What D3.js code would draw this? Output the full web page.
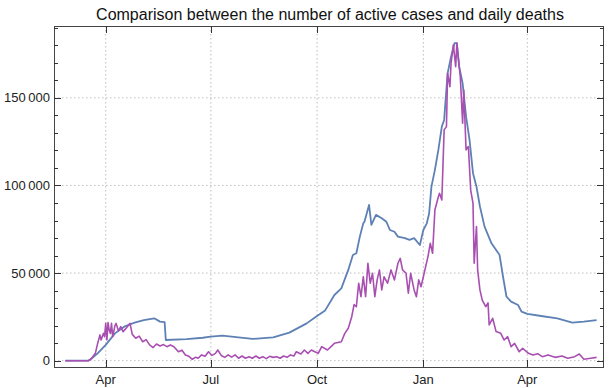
<!DOCTYPE html>
<html>
<head>
<meta charset="UTF-8">
<title>Active cases and daily deaths</title>
<script src="https://d3js.org/d3.v7.min.js"></script>
<style>
  body { margin: 0; background: #fff; }
  svg { display: block; font-family: "Liberation Sans", Arial, sans-serif; }
  .grid line { stroke: #bdbdbd; stroke-width: 1; stroke-dasharray: 1.5,2.5; }
  .frame { fill: none; stroke: #444; stroke-width: 1; }
  .tick { stroke: #333; stroke-width: 1; }
  .lbl { font-size: 13px; fill: #222; }
</style>
</head>
<body>
<svg width="609" height="388"></svg>
<script>
// active cases
const activeDates = ["2020-02-26","2020-03-17","2020-03-19","2020-03-25","2020-04-01","2020-04-09","2020-04-17","2020-04-26",
  "2020-05-04","2020-05-13","2020-05-18","2020-05-22","2020-05-23","2020-06-10","2020-06-24","2020-07-01","2020-07-11",
  "2020-08-06","2020-08-24","2020-09-07","2020-09-22","2020-09-30","2020-10-08","2020-10-16","2020-10-22","2020-10-28",
  "2020-11-01","2020-11-04","2020-11-07","2020-11-10","2020-11-11","2020-11-15","2020-11-17","2020-11-21","2020-11-26",
  "2020-11-30","2020-12-03","2020-12-07","2020-12-10","2020-12-16","2020-12-20","2020-12-24","2020-12-29","2021-01-01",
  "2021-01-04","2021-01-06","2021-01-08","2021-01-11","2021-01-14","2021-01-17","2021-01-19","2021-01-22","2021-01-25",
  "2021-01-28","2021-01-30","2021-02-01","2021-02-04","2021-02-07","2021-02-10","2021-02-13","2021-02-16","2021-02-19",
  "2021-02-23","2021-03-01","2021-03-08","2021-03-11","2021-03-14","2021-03-18","2021-03-24","2021-03-27","2021-04-01",
  "2021-04-13","2021-04-27","2021-05-10","2021-05-20","2021-05-31"];
const activeValues = [0,0,800,4200,9000,15600,19400,21700,
  23200,24200,22300,22000,11800,12300,13100,13700,14300,
  12400,13300,16000,21300,25100,28700,37500,41300,51800,
  60300,61300,70800,78400,79300,88900,77500,83200,81300,
  79300,74600,73600,70800,69900,68900,69900,66000,74600,
  78400,84000,99300,108900,120300,133600,137400,164000,173500,
  181200,181200,167800,158300,139300,126000,107000,99300,88000,
  76500,67000,60300,47900,36500,33700,31800,28000,26700,
  25500,24200,21700,22300,23200];

// daily deaths (scaled as plotted)
const deathDates = ["2020-02-26","2020-03-17","2020-03-20","2020-03-23","2020-03-25","2020-03-27","2020-03-28","2020-03-30",
  "2020-03-31","2020-04-01","2020-04-02","2020-04-03","2020-04-04","2020-04-05","2020-04-06","2020-04-07","2020-04-09",
  "2020-04-10","2020-04-12","2020-04-14","2020-04-16","2020-04-18","2020-04-22","2020-04-24","2020-04-27","2020-04-30",
  "2020-05-03","2020-05-06","2020-05-09","2020-05-12","2020-05-15","2020-05-18","2020-05-21","2020-05-24","2020-05-27",
  "2020-05-30","2020-06-03","2020-06-06","2020-06-09","2020-06-12","2020-06-15","2020-06-18","2020-06-20","2020-06-23",
  "2020-06-26","2020-06-29","2020-07-02","2020-07-05","2020-07-07","2020-07-10","2020-07-13","2020-07-16","2020-07-19",
  "2020-07-22","2020-07-25","2020-07-28","2020-07-31","2020-08-03","2020-08-06","2020-08-09","2020-08-12","2020-08-15",
  "2020-08-18","2020-08-21","2020-08-24","2020-08-27","2020-08-30","2020-09-02","2020-09-05","2020-09-08","2020-09-11",
  "2020-09-13","2020-09-17","2020-09-20","2020-09-23","2020-09-26","2020-09-29","2020-10-02","2020-10-05","2020-10-10",
  "2020-10-16","2020-10-22","2020-10-25","2020-10-28","2020-10-31","2020-11-02","2020-11-04","2020-11-06","2020-11-08",
  "2020-11-10","2020-11-12","2020-11-14","2020-11-16","2020-11-18","2020-11-20","2020-11-22","2020-11-24","2020-11-26",
  "2020-11-28","2020-12-01","2020-12-04","2020-12-07","2020-12-10","2020-12-12","2020-12-14","2020-12-17","2020-12-19",
  "2020-12-21","2020-12-24","2020-12-26","2020-12-28","2020-12-30","2021-01-01","2021-01-03","2021-01-05","2021-01-07",
  "2021-01-09","2021-01-11","2021-01-14","2021-01-15",
  "2021-01-17","2021-01-19","2021-01-21","2021-01-22","2021-01-24","2021-01-25","2021-01-27","2021-01-29","2021-01-30",
  "2021-02-02","2021-02-04","2021-02-05","2021-02-07","2021-02-09","2021-02-11","2021-02-13","2021-02-14","2021-02-16",
  "2021-02-17","2021-02-19","2021-02-21","2021-02-24","2021-02-26","2021-02-27","2021-03-02","2021-03-05","2021-03-09",
  "2021-03-12","2021-03-15","2021-03-18","2021-03-21","2021-03-25","2021-03-28","2021-04-02","2021-04-06","2021-04-10",
  "2021-04-14","2021-04-19","2021-04-25","2021-05-01","2021-05-06","2021-05-12","2021-05-16","2021-05-20","2021-05-26",
  "2021-05-31"];
const deathValues = [0,0,1500,4200,9900,14700,11800,15600,
  13700,21300,11800,21700,17500,15600,21300,13700,20000,
  21300,17000,19400,16500,18000,21300,15000,12800,14000,
  10800,12000,9000,7500,9500,8400,9200,8000,9000,
  8000,5100,6000,3300,2500,800,2000,1400,3300,
  2500,5100,3000,4200,6100,3000,1900,3300,2000,
  3300,1400,2700,1400,2300,1400,2700,1400,2300,
  1200,2500,1900,2300,1400,2700,1900,3300,2700,
  5100,3800,6100,4200,6100,5100,4200,8000,6100,
  9900,10800,15600,18500,25100,32000,30800,44200,36500,
  47900,36500,55600,44200,49900,36500,46100,51800,40400,
  47900,44200,51800,46100,55600,58400,51800,49900,38500,
  49900,40400,36500,46100,42200,47900,53700,59400,67000,
  61300,86000,93600,95500,
  91700,131700,133600,164000,156400,169800,180200,167800,181200,
  162100,135500,154500,120300,122200,97400,89800,55600,76500,
  51800,40400,34600,30800,33000,20400,24200,16600,15600,
  11800,13700,8000,9900,5100,7100,4200,3300,4000,
  2300,3300,1900,2700,1400,2300,3800,800,1400,
  1900];

const monthTicks = ["2020-04-01","2020-07-01","2020-10-01","2021-01-01","2021-04-01"];
const monthLabels = ["Apr","Jul","Oct","Jan","Apr"];
const yTicks = [0, 50000, 100000, 150000];
const yMinorTicks = d3.range(0, 190001, 10000);
const title = "Comparison between the number of active cases and daily deaths";

const parse = d3.utcParse("%Y-%m-%d");
const svg = d3.select("svg");
const pLeft = 54, pRight = 604, pTop = 26, pBottom = 367;

const x = d3.scaleUtc()
    .domain([Date.UTC(2020, 1, 16, 5), Date.UTC(2021, 5, 6, 10)])
    .range([pLeft, pRight]);
const y = d3.scaleLinear()
    .domain([-3600, 191000])
    .range([pBottom, pTop]);

const fmt = d3.formatLocale({decimal: ".", thousands: "\u2009", grouping: [3], currency: ["", ""]}).format(",d");

// grid
const grid = svg.append("g").attr("class", "grid");
grid.selectAll(".gx").data(monthTicks).enter().append("line")
    .attr("x1", d => x(parse(d))).attr("x2", d => x(parse(d)))
    .attr("y1", pTop).attr("y2", pBottom);
grid.selectAll(".gy").data(yTicks).enter().append("line")
    .attr("x1", pLeft).attr("x2", pRight)
    .attr("y1", d => y(d)).attr("y2", d => y(d));

// series
const line = d3.line().x(d => x(d[0])).y(d => y(d[1]));
const active = activeDates.map((d, i) => [parse(d), activeValues[i]]);
const deaths = deathDates.map((d, i) => [parse(d), deathValues[i]]);

svg.append("path").datum(active)
    .attr("fill", "none").attr("stroke", "#5e81b5").attr("stroke-width", 1.8)
    .attr("stroke-linejoin", "round").attr("d", line);
svg.append("path").datum(deaths)
    .attr("fill", "none").attr("stroke", "#a84fb1").attr("stroke-width", 1.6)
    .attr("stroke-linejoin", "round").attr("d", line);

// frame
svg.append("rect").attr("class", "frame")
    .attr("x", pLeft + 0.5).attr("y", pTop + 0.5)
    .attr("width", pRight - pLeft - 1).attr("height", pBottom - pTop);

// ticks
const t = svg.append("g");
monthTicks.forEach(d => {
  const xx = Math.round(x(parse(d))) + 0.5;
  t.append("line").attr("class", "tick").attr("x1", xx).attr("x2", xx).attr("y1", pBottom).attr("y2", pBottom - 7);
  t.append("line").attr("class", "tick").attr("x1", xx).attr("x2", xx).attr("y1", pTop).attr("y2", pTop + 7);
});
yMinorTicks.forEach(d => {
  const major = yTicks.includes(d);
  const len = major ? 7 : 4;
  const yy = Math.round(y(d)) + 0.5;
  t.append("line").attr("class", "tick").attr("x1", pLeft).attr("x2", pLeft + len).attr("y1", yy).attr("y2", yy);
  t.append("line").attr("class", "tick").attr("x1", pRight).attr("x2", pRight - len).attr("y1", yy).attr("y2", yy);
});

// labels
svg.selectAll(".xl").data(monthTicks).enter().append("text")
    .attr("class", "lbl")
    .attr("x", d => x(parse(d))).attr("y", 384)
    .attr("text-anchor", "middle")
    .text((d, i) => monthLabels[i]);
svg.selectAll(".yl").data(yTicks).enter().append("text")
    .attr("class", "lbl")
    .attr("x", pLeft - 4).attr("y", d => y(d) + 4.5)
    .attr("text-anchor", "end")
    .text(d => fmt(d));

svg.append("text")
    .attr("x", (pLeft + pRight) / 2 + 1).attr("y", 20)
    .attr("text-anchor", "middle")
    .attr("font-size", "16px").attr("fill", "#111")
    .text(title);
</script>
</body>
</html>
